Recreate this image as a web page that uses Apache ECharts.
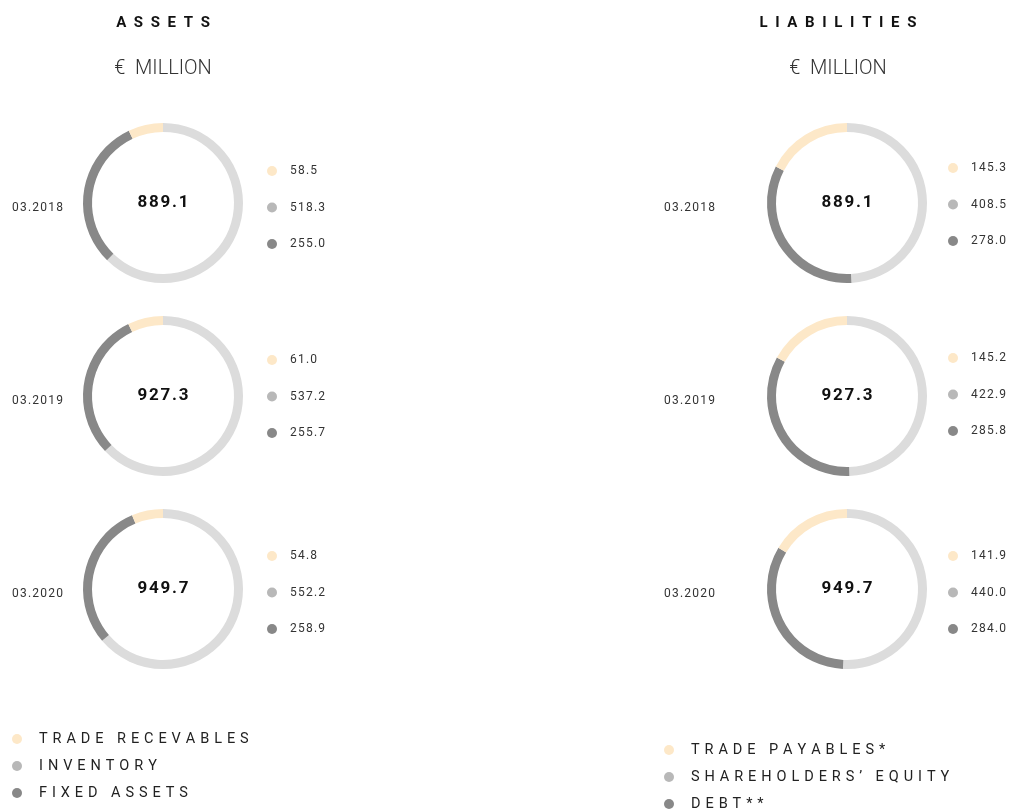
<!DOCTYPE html>
<html>
<head>
<meta charset="utf-8">
<script src="https://cdn.jsdelivr.net/npm/echarts@6/dist/echarts.min.js"></script>
<style>
  html, body { margin: 0; padding: 0; background: #fff; }
  #mychart { width: 1010px; height: 810px; }
</style>
</head>
<body>
<div id="mychart"></div>
<script>
"use strict";
const years = ['03.2018', '03.2019', '03.2020'];
const assetNames = ['TRADE RECEVABLES', 'INVENTORY', 'FIXED ASSETS'];
const liabNames = ['TRADE PAYABLES*', 'SHAREHOLDERS\u2019 EQUITY', 'DEBT**'];
const assetTotals = [889.1, 927.3, 949.7];
const receivables = [58.5, 61.0, 54.8];
const inventory = [518.3, 537.2, 552.2];
const fixedAssets = [255.0, 255.7, 258.9];
const liabTotals = [889.1, 927.3, 949.7];
const tradePayables = [145.3, 145.2, 141.9];
const equity = [408.5, 422.9, 440.0];
const debt = [278.0, 285.8, 284.0];

const ringColors = ['#fde8c8', '#dcdcdc', '#888888'];
const dotColors = ['#fde8c8', '#b8b8b8', '#888888'];
const font = 'Roboto, "DejaVu Sans", sans-serif';

// layout
const leftX = 163, rightX = 847;
const rowY = [203, 396, 589];
const dotTopLeft = [170, 359, 555];
const dotTopRight = [167, 357, 555];

function spaced(s, sep) {
    return s.split('').join(sep);
}

const container = document.getElementById('mychart');
const myChart = echarts.init(container);

const series = [];
const legends = [];
const texts = [];

function addColumn(cx, names, cols, totals, legendX, dotTop, yearX) {
    for (let i = 0; i < years.length; i++) {
        const vals = cols.map(c => c[i]);
        // clockwise from the top: middle item, dark item, light item
        const order = [1, 2, 0];
        series.push({
            type: 'pie',
            center: [cx, rowY[i]],
            radius: [71, 80],
            startAngle: 90,
            clockwise: true,
            silent: true,
            label: { show: false },
            labelLine: { show: false },
            emphasis: { disabled: true },
            data: order.map(k => ({
                name: names[k],
                value: vals[k],
                itemStyle: { color: ringColors[k] }
            }))
        });
        legends.push({
            orient: 'vertical',
            left: legendX,
            top: dotTop[i] - 11,
            icon: 'circle',
            itemWidth: 26,
            itemHeight: 10,
            itemGap: 22.5,
            selectedMode: false,
            textStyle: { fontFamily: font, fontSize: 12, lineHeight: 14, color: '#333' },
            data: names.map((n, k) => ({ name: n, itemStyle: { color: dotColors[k] } })),
            formatter: name => spaced(vals[names.indexOf(name)].toFixed(1), '\u200a')
        });
        texts.push({
            type: 'text', x: cx, y: rowY[i],
            style: {
                text: spaced(totals[i].toFixed(1), '\u200a'),
                font: 'bold 17px ' + font, fill: '#111',
                align: 'center', verticalAlign: 'middle'
            }
        });
        texts.push({
            type: 'text', x: yearX, y: rowY[i] + 5,
            style: {
                text: spaced(years[i], '\u200a'),
                font: '12px ' + font, fill: '#333',
                align: 'left', verticalAlign: 'middle'
            }
        });
    }
}

addColumn(leftX, assetNames, [receivables, inventory, fixedAssets], assetTotals, 262, dotTopLeft, 12);
addColumn(rightX, liabNames, [tradePayables, equity, debt], liabTotals, 943, dotTopRight, 664);

function bottomLegend(names, left, top) {
    return {
        orient: 'vertical',
        left: left,
        top: top,
        height: 80,
        padding: 0,
        icon: 'circle',
        itemWidth: 34,
        itemHeight: 10,
        itemGap: 11,
        selectedMode: false,
        textStyle: { fontFamily: font, fontSize: 14.5, lineHeight: 16, color: '#222' },
        data: names.map((n, k) => ({ name: n, itemStyle: { color: dotColors[k] } })),
        formatter: name => spaced(name, '\u2004')
    };
}
legends.push(bottomLegend(assetNames, 12, 731));
legends.push(bottomLegend(liabNames, 664, 742));

function heading(x, title) {
    texts.push({
        type: 'text', x: x, y: 23,
        style: { text: spaced(title, '\u2002'), font: 'bold 15px ' + font, fill: '#111', align: 'center', verticalAlign: 'middle' }
    });
    texts.push({
        type: 'text', x: x, y: 69,
        style: { text: '\u20ac  MILLION', font: '300 20px ' + font, fill: '#333', align: 'center', verticalAlign: 'middle' }
    });
}
heading(163, 'ASSETS');
heading(838, 'LIABILITIES');

const option = {
    animation: false,
    backgroundColor: '#fff',
    legend: legends,
    series: series,
    graphic: { elements: texts }
};
myChart.setOption(option);
</script>
</body>
</html>
